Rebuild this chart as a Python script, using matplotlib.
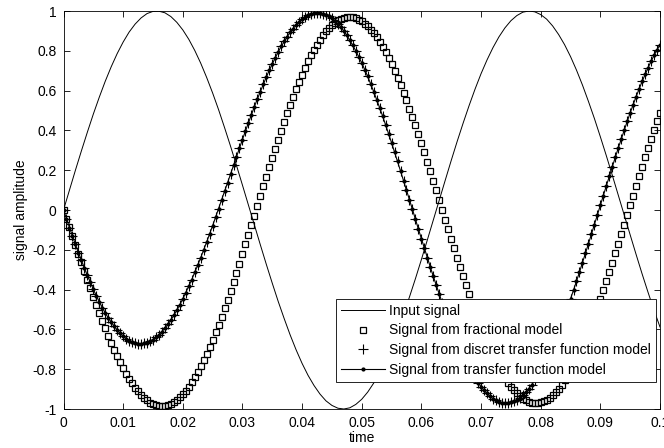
import numpy as np
import matplotlib
matplotlib.use("Agg")
import matplotlib.pyplot as plt

# sample grids (s)
time = np.linspace(0, 0.1, 201)
time_input = np.linspace(0, 0.1, 101)

# input sine
input_signal = [
    0.000, 0.100, 0.200, 0.297, 0.391, 0.482, 0.567, 0.647, 0.720, 0.786,
    0.844, 0.894, 0.934, 0.965, 0.987, 0.998, 0.999, 0.991, 0.972, 0.943,
    0.905, 0.858, 0.802, 0.738, 0.666, 0.588, 0.504, 0.414, 0.321, 0.224,
    0.125, 0.025, -0.075, -0.175, -0.273, -0.368, -0.460, -0.546, -0.628, -0.703,
    -0.771, -0.831, -0.882, -0.925, -0.959, -0.982, -0.996, -1.000, -0.994, -0.977,
    -0.951, -0.915, -0.870, -0.816, -0.754, -0.685, -0.608, -0.525, -0.437, -0.345,
    -0.249, -0.150, -0.050, 0.050, 0.150, 0.249, 0.345, 0.437, 0.525, 0.608,
    0.685, 0.754, 0.816, 0.870, 0.915, 0.951, 0.977, 0.994, 1.000, 0.996,
    0.982, 0.959, 0.925, 0.882, 0.831, 0.771, 0.703, 0.628, 0.546, 0.460,
    0.368, 0.273, 0.175, 0.075, -0.025, -0.125, -0.224, -0.321, -0.414, -0.504,
    -0.588,
]

# fractional model output (square markers)
fractional = [
    0.000, -0.044, -0.087, -0.131, -0.176, -0.219, -0.263, -0.307, -0.351, -0.393,
    -0.435, -0.476, -0.517, -0.557, -0.595, -0.632, -0.667, -0.702, -0.734, -0.765,
    -0.794, -0.823, -0.848, -0.871, -0.893, -0.912, -0.929, -0.944, -0.957, -0.968,
    -0.976, -0.982, -0.985, -0.986, -0.984, -0.980, -0.974, -0.966, -0.955, -0.941,
    -0.926, -0.908, -0.888, -0.865, -0.841, -0.814, -0.786, -0.755, -0.723, -0.689,
    -0.653, -0.615, -0.577, -0.536, -0.494, -0.451, -0.407, -0.362, -0.316, -0.269,
    -0.221, -0.173, -0.125, -0.077, -0.028, 0.021, 0.070, 0.119, 0.167, 0.215,
    0.262, 0.309, 0.354, 0.399, 0.443, 0.487, 0.528, 0.569, 0.607, 0.645,
    0.680, 0.714, 0.747, 0.777, 0.805, 0.831, 0.855, 0.877, 0.897, 0.915,
    0.930, 0.942, 0.953, 0.961, 0.966, 0.969, 0.970, 0.968, 0.964, 0.957,
    0.948, 0.937, 0.923, 0.907, 0.888, 0.867, 0.844, 0.819, 0.792, 0.763,
    0.732, 0.699, 0.665, 0.628, 0.590, 0.551, 0.510, 0.468, 0.425, 0.380,
    0.335, 0.289, 0.242, 0.194, 0.146, 0.098, 0.049, 0.001, -0.048, -0.097,
    -0.145, -0.193, -0.241, -0.288, -0.334, -0.379, -0.423, -0.467, -0.509, -0.550,
    -0.589, -0.627, -0.664, -0.698, -0.731, -0.762, -0.792, -0.819, -0.844, -0.867,
    -0.888, -0.906, -0.922, -0.936, -0.948, -0.957, -0.964, -0.968, -0.970, -0.969,
    -0.966, -0.961, -0.953, -0.943, -0.930, -0.915, -0.898, -0.878, -0.856, -0.832,
    -0.806, -0.778, -0.748, -0.716, -0.682, -0.647, -0.609, -0.571, -0.531, -0.489,
    -0.446, -0.403, -0.358, -0.312, -0.265, -0.218, -0.170, -0.122, -0.074, -0.025,
    0.024, 0.072, 0.121, 0.169, 0.217, 0.264, 0.311, 0.356, 0.401, 0.445,
    0.488,
]

# transfer function model output (dotted line); discrete version lies on top of it
tf_model = [
    0.000, -0.044, -0.089, -0.131, -0.173, -0.214, -0.253, -0.292, -0.329, -0.364,
    -0.398, -0.431, -0.461, -0.490, -0.517, -0.542, -0.564, -0.584, -0.603, -0.620,
    -0.634, -0.646, -0.656, -0.663, -0.668, -0.671, -0.672, -0.670, -0.666, -0.660,
    -0.651, -0.640, -0.627, -0.611, -0.594, -0.574, -0.552, -0.529, -0.503, -0.476,
    -0.447, -0.415, -0.384, -0.350, -0.314, -0.277, -0.240, -0.201, -0.161, -0.120,
    -0.079, -0.036, 0.006, 0.049, 0.093, 0.137, 0.180, 0.224, 0.267, 0.311,
    0.354, 0.397, 0.438, 0.478, 0.519, 0.558, 0.595, 0.633, 0.668, 0.702,
    0.734, 0.765, 0.795, 0.822, 0.847, 0.871, 0.893, 0.912, 0.930, 0.946,
    0.959, 0.970, 0.979, 0.985, 0.989, 0.990, 0.990, 0.986, 0.981, 0.973,
    0.963, 0.951, 0.936, 0.919, 0.899, 0.877, 0.853, 0.827, 0.800, 0.770,
    0.739, 0.705, 0.671, 0.633, 0.595, 0.555, 0.514, 0.472, 0.428, 0.383,
    0.338, 0.291, 0.244, 0.196, 0.148, 0.100, 0.051, 0.003, -0.047, -0.096,
    -0.144, -0.192, -0.240, -0.287, -0.334, -0.379, -0.423, -0.467, -0.509, -0.550,
    -0.589, -0.627, -0.664, -0.698, -0.731, -0.762, -0.792, -0.819, -0.844, -0.867,
    -0.888, -0.906, -0.922, -0.936, -0.948, -0.957, -0.964, -0.968, -0.970, -0.969,
    -0.966, -0.961, -0.953, -0.943, -0.930, -0.915, -0.898, -0.878, -0.856, -0.832,
    -0.806, -0.778, -0.748, -0.716, -0.682, -0.647, -0.609, -0.571, -0.531, -0.489,
    -0.446, -0.403, -0.358, -0.312, -0.265, -0.218, -0.170, -0.122, -0.074, -0.025,
    0.024, 0.072, 0.121, 0.169, 0.217, 0.264, 0.311, 0.356, 0.401, 0.445,
    0.488, 0.529, 0.570, 0.608, 0.646, 0.681, 0.715, 0.747, 0.777, 0.805,
    0.831,
]
discrete_tf = tf_model

x_ticks = [0, 0.01, 0.02, 0.03, 0.04, 0.05, 0.06, 0.07, 0.08, 0.09, 0.1]
x_tick_labels = ["0", "0.01", "0.02", "0.03", "0.04", "0.05", "0.06", "0.07", "0.08", "0.09", "0.1"]
y_ticks = [-1, -0.8, -0.6, -0.4, -0.2, 0, 0.2, 0.4, 0.6, 0.8, 1]
y_tick_labels = ["-1", "-0.8", "-0.6", "-0.4", "-0.2", "0", "0.2", "0.4", "0.6", "0.8", "1"]

plt.rcParams["font.family"] = ["Liberation Sans", "DejaVu Sans"]
plt.rcParams["axes.unicode_minus"] = False

fig = plt.figure(figsize=(6.64, 4.48), dpi=100)
ax = fig.add_axes([63.5 / 664, 1 - 409 / 448, (660 - 63.5) / 664, (409 - 11) / 448])

ax.plot(time_input, input_signal, color="black", lw=0.7, label="Input signal")
ax.plot(time, fractional, ls="none", marker="s", ms=3.7, mfc="none", mec="black",
        mew=0.9, label="Signal from fractional model")
ax.plot(time, discrete_tf, ls="none", marker="+", ms=6.5, mew=0.8, color="black",
        label="Signal from discret transfer function model")
ax.plot(time, tf_model, color="black", lw=0.8, marker=".", ms=4,
        label="Signal from transfer function model")

ax.set_xlim(0, 0.1)
ax.set_ylim(-1, 1)
ax.set_xticks(x_ticks)
ax.set_xticklabels(x_tick_labels)
ax.set_yticks(y_ticks)
ax.set_yticklabels(y_tick_labels)
ax.tick_params(direction="in", top=True, right=True, length=4, width=0.6,
               labelsize=10, pad=5)
for s in ax.spines.values():
    s.set_linewidth(0.6)

ax.set_xlabel("time", fontsize=10, labelpad=1)
ax.set_ylabel("signal amplitude", fontsize=10, labelpad=3)

leg = ax.legend(loc="upper left", bbox_to_anchor=(0.457, 0.277), frameon=True,
                fancybox=False, edgecolor="black", framealpha=1, borderaxespad=0,
                fontsize=10, handlelength=3.2, borderpad=0.35, labelspacing=0.42,
                handletextpad=0.25)
leg.get_frame().set_linewidth(0.6)

fig.savefig("out.png", dpi=100)
